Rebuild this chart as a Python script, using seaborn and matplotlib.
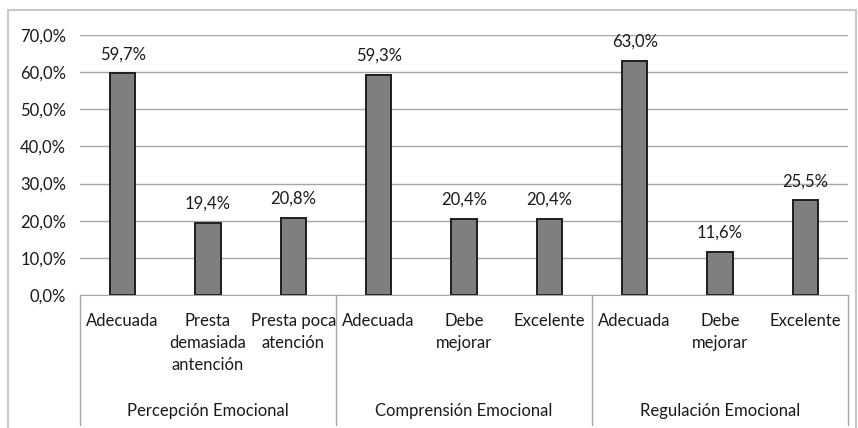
import matplotlib
matplotlib.use("Agg")
import matplotlib.pyplot as plt
import matplotlib.transforms as mtransforms
from matplotlib.patches import Rectangle
import seaborn as sns
import pandas as pd

groups = ["Percepción Emocional", "Comprensión Emocional", "Regulación Emocional"]
categories = ["Adecuada", "Presta\ndemasiada\nantención", "Presta poca\natención",
              "Adecuada", "Debe\nmejorar", "Excelente",
              "Adecuada", "Debe\nmejorar", "Excelente"]
values = [59.7, 19.4, 20.8, 59.3, 20.4, 20.4, 63.0, 11.6, 25.5]
yticks = [0, 10, 20, 30, 40, 50, 60, 70]

sns.set_style("white")
plt.rcParams['font.family'] = ['Lato', 'DejaVu Sans']

TXT = "#1a1a1a"
FS = 12

df = pd.DataFrame({"key": [f"c{i}" for i in range(len(values))], "value": values})

fig = plt.figure(figsize=(8.58, 4.28), dpi=100)
ax = fig.add_axes([80/858, (428-295)/428, (848-80)/858, 260/428])

sns.barplot(data=df, x="key", y="value", order=list(df["key"]), color="#7f7f7f",
            width=0.3, edgecolor="#1e1e1e", linewidth=1.4, saturation=1, ax=ax)

ax.set_ylim(0, 70)
ax.set_xlim(-0.5, len(values) - 0.5)
ax.set_yticks(yticks)
ax.set_yticklabels([f"{v:.1f}%".replace(".", ",") for v in yticks], fontsize=FS, color=TXT)
ax.yaxis.grid(True, color="#a6a6a6", linewidth=1)
ax.set_axisbelow(True)
ax.tick_params(axis="both", length=0, pad=10)
ax.set_xticks(range(len(values)))
ax.set_xticklabels(categories, fontsize=FS, color=TXT, linespacing=1.45)
ax.tick_params(axis="x", pad=13)
ax.set_xlabel("")
ax.set_ylabel("")
for s in ["top", "right", "left"]:
    ax.spines[s].set_visible(False)
ax.spines["bottom"].set_color("#a6a6a6")

for i, v in enumerate(values):
    ax.annotate(f"{v:.1f}%".replace(".", ","), (i, v), xytext=(0, 8), textcoords="offset points",
                ha="center", va="bottom", fontsize=FS, color=TXT)

trans = mtransforms.blended_transform_factory(ax.transData, ax.transAxes)
for x in [-0.5, 2.5, 5.5, 8.5]:
    ax.plot([x, x], [0, -0.5], transform=trans, color="#a6a6a6", linewidth=1, clip_on=False)
for g, gname in enumerate(groups):
    ax.text(g * 3 + 1, -0.445, gname, transform=trans, ha="center", va="center",
            fontsize=FS, color=TXT)

fig.patches.append(Rectangle((8/858, -0.05), (856-8)/858, (418/428) + 0.05,
                             transform=fig.transFigure, fill=False,
                             edgecolor="#c8c8c8", linewidth=1.5))

fig.savefig("out.png", dpi=100)
